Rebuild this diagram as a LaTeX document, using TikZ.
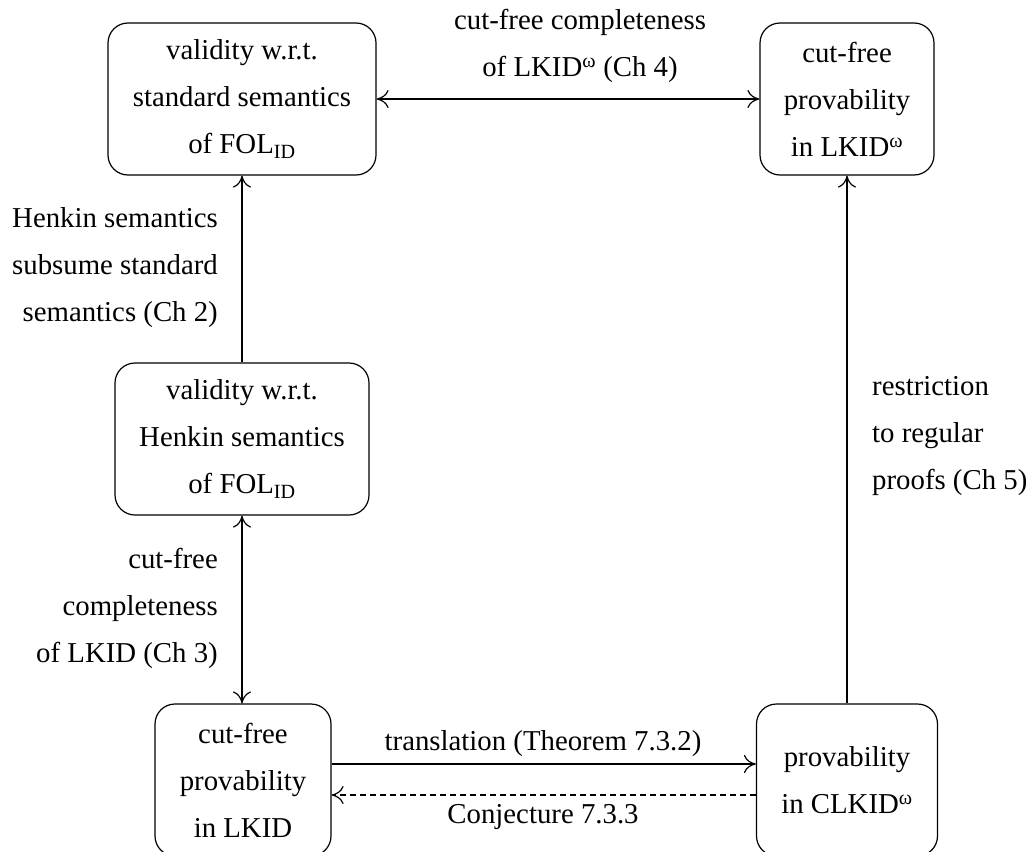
\documentclass[tikz,border=0pt]{standalone}
\usepackage{fontspec}
\setmainfont{Liberation Serif}
\usetikzlibrary{arrows.meta}
\begin{document}
\begin{tikzpicture}[x=1pt,y=-1pt,
  font=\fontsize{28.8}{47}\selectfont,
  box/.style={draw, rounded corners=20pt, line width=1.2pt, align=center, inner sep=0pt},
  lbl/.style={inner sep=0pt},
  conn/.style={line width=1.2pt},
  >={To[length=12pt,width=18pt]}]
\clip (0,0) rectangle (1032,851);
\node[box, minimum width=268pt, minimum height=152pt] (A) at (242,99) {validity w.r.t.\\standard semantics\\of FOL\textsubscript{ID}};
\node[box, minimum width=174pt, minimum height=152pt] (B) at (847,99) {cut-free\\provability\\in LKID\textsuperscript{ω}};
\node[box, minimum width=254pt, minimum height=152pt] (C) at (242,439) {validity w.r.t.\\Henkin semantics\\of FOL\textsubscript{ID}};
\node[box, minimum width=176pt, minimum height=152pt] (D) at (243,780) {cut-free\\provability\\in LKID};
\node[box, minimum width=181pt, minimum height=152pt] (E) at (847,780) {provability\\in CLKID\textsuperscript{ω}};

\draw[conn,<->] (A.east) -- (B.west);
\draw[conn,->] (C.north) -- (A.south);
\draw[conn,<->] (C.south) -- (C.south |- D.north);
\draw[conn,->] (E.north) -- (B.south);
\draw[conn,->] ([yshift=16pt]D.east) -- ([yshift=16pt]E.west);
\draw[conn,->,dashed,dash pattern=on 6pt off 4pt] ([yshift=-15pt]E.west) -- ([yshift=-15pt]D.east);

\node[lbl, align=center] (T) at (580,46) {cut-free completeness\\of LKID\textsuperscript{ω} (Ch 4)};
\node[lbl, align=right, anchor=east] (L1) at (218,268) {Henkin semantics\\subsume standard\\semantics (Ch 2)};
\node[lbl, align=right, anchor=east] (L2) at (218,608) {cut-free\\completeness\\of LKID (Ch 3)};
\node[lbl, align=left, anchor=west] (R) at (872,436) {restriction\\to regular\\proofs (Ch 5)};
\node[lbl] (B1) at (543,744) {translation (Theorem 7.3.2)};
\node[lbl] (B2) at (543,817) {Conjecture 7.3.3};
\end{tikzpicture}
\end{document}
